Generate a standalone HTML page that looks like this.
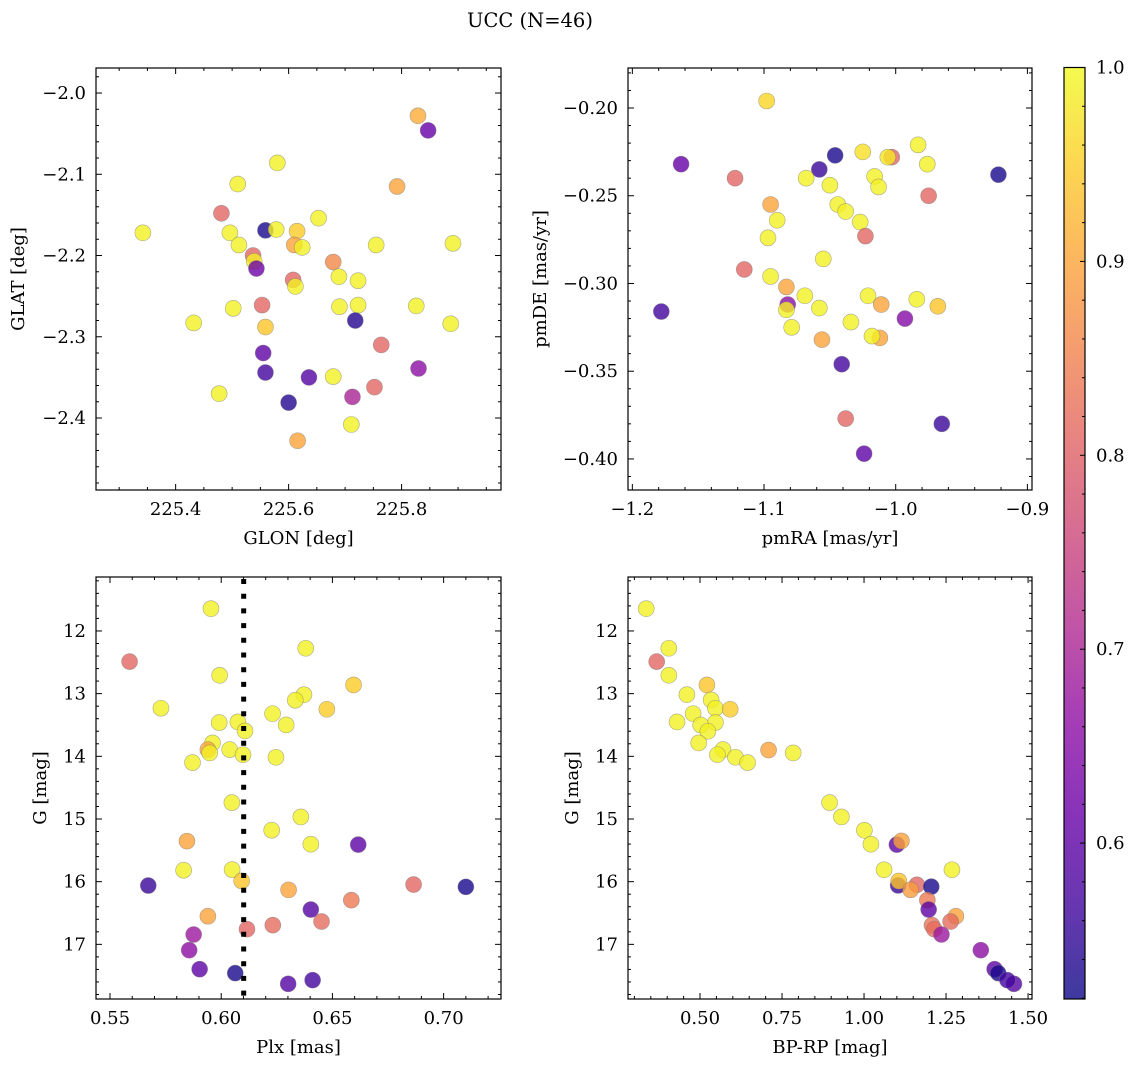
<!DOCTYPE html>
<html><head><meta charset="utf-8"><title>UCC (N=46)</title>
<style>
html,body{margin:0;padding:0;background:#fff;}
svg{display:block;font-family:"DejaVu Serif","Liberation Serif",serif;}
</style></head>
<body>
<svg id="fig" width="1136" height="1067" viewBox="0 0 1136 1067" xmlns="http://www.w3.org/2000/svg">
<rect width="1136" height="1067" fill="#fff"/>
<text x="530" y="27" font-size="19.5" text-anchor="middle">UCC (N=46)</text>
<defs>
<linearGradient id="cbgrad" x1="0" y1="1" x2="0" y2="0"></linearGradient>
</defs>
</svg>
<script>
// ---- data (46 members) ----
const glon = [225.342,225.481,225.510,225.496,225.512,225.537,225.539,225.543,225.559,225.580,225.578,225.615,225.610,225.624,225.653,225.608,225.612,225.679,225.689,225.723,225.792,225.829,225.847,225.755,225.891,225.502,225.553,225.559,225.432,225.690,225.723,225.826,225.887,225.718,225.764,225.555,225.559,225.636,225.679,225.830,225.752,225.713,225.477,225.600,225.711,225.616];
const glat = [-2.172,-2.148,-2.112,-2.172,-2.187,-2.200,-2.207,-2.216,-2.169,-2.086,-2.168,-2.170,-2.187,-2.190,-2.154,-2.230,-2.238,-2.208,-2.226,-2.231,-2.115,-2.028,-2.046,-2.187,-2.185,-2.265,-2.261,-2.288,-2.283,-2.263,-2.261,-2.262,-2.284,-2.280,-2.310,-2.320,-2.344,-2.350,-2.349,-2.339,-2.362,-2.374,-2.370,-2.381,-2.408,-2.428];
const probA = [0.99,0.81,0.99,0.99,0.99,0.81,0.99,0.62,0.53,0.99,0.99,0.95,0.90,0.99,0.99,0.81,0.99,0.86,0.99,0.99,0.90,0.91,0.61,0.99,0.99,0.99,0.81,0.94,0.99,0.99,0.99,0.99,0.99,0.54,0.81,0.60,0.57,0.59,0.99,0.66,0.81,0.70,0.99,0.54,0.99,0.90];

const pmra = [-1.098,-1.163,-1.122,-1.046,-1.058,-1.025,-1.003,-1.006,-0.983,-0.976,-0.922,-1.068,-1.050,-1.016,-1.013,-0.975,-1.095,-1.044,-1.038,-1.090,-1.027,-1.023,-1.097,-1.055,-1.115,-1.095,-1.083,-1.069,-1.021,-0.984,-1.011,-0.968,-1.082,-1.083,-1.058,-1.178,-0.993,-1.079,-1.034,-1.056,-1.012,-1.018,-1.041,-1.038,-0.965,-1.024];
const pmde = [-0.196,-0.232,-0.240,-0.227,-0.235,-0.225,-0.228,-0.228,-0.221,-0.232,-0.238,-0.240,-0.244,-0.239,-0.245,-0.250,-0.255,-0.255,-0.259,-0.264,-0.265,-0.273,-0.274,-0.286,-0.292,-0.296,-0.302,-0.307,-0.307,-0.309,-0.312,-0.313,-0.312,-0.315,-0.314,-0.316,-0.320,-0.325,-0.322,-0.332,-0.331,-0.330,-0.346,-0.377,-0.380,-0.397];
const probB = [0.96,0.61,0.81,0.53,0.56,0.97,0.81,0.98,0.99,0.99,0.53,0.99,0.99,0.99,0.99,0.81,0.90,0.99,0.99,0.99,0.99,0.81,0.99,0.99,0.81,0.99,0.90,0.99,0.99,0.99,0.90,0.94,0.66,0.99,0.99,0.57,0.65,0.99,0.99,0.90,0.90,0.99,0.57,0.81,0.56,0.60];

const plx = [0.5954,0.6380,0.5588,0.5993,0.6595,0.6372,0.6333,0.5729,0.6475,0.6231,0.6292,0.5991,0.6075,0.6107,0.5961,0.5940,0.5948,0.6038,0.6098,0.6246,0.5871,0.6048,0.6358,0.6227,0.5846,0.6403,0.6616,0.5831,0.6049,0.6092,0.5672,0.6303,0.6865,0.7100,0.6585,0.6403,0.5940,0.6451,0.6232,0.6116,0.5876,0.5856,0.5903,0.6063,0.6301,0.6411];
const gmagC = [11.644,12.276,12.489,12.707,12.861,13.016,13.105,13.233,13.249,13.319,13.499,13.462,13.451,13.595,13.786,13.893,13.946,13.893,13.973,14.015,14.100,14.738,14.967,15.179,15.354,15.402,15.408,15.817,15.807,15.987,16.062,16.131,16.046,16.083,16.295,16.445,16.551,16.636,16.694,16.757,16.843,17.093,17.396,17.459,17.630,17.571];
const probC = [0.99,0.99,0.81,0.99,0.95,0.99,0.99,0.99,0.95,0.99,0.99,0.99,0.99,0.99,0.99,0.90,0.99,0.99,0.99,0.99,0.99,0.99,0.99,0.99,0.90,0.99,0.60,0.99,0.99,0.94,0.56,0.90,0.81,0.53,0.84,0.59,0.90,0.82,0.82,0.81,0.68,0.66,0.60,0.53,0.59,0.57];

const bprp = [0.336,0.405,0.368,0.405,0.521,0.460,0.534,0.547,0.592,0.479,0.430,0.547,0.502,0.524,0.496,0.570,0.553,0.608,0.645,0.709,0.784,0.895,0.931,1.001,1.021,1.100,1.114,1.061,1.268,1.104,1.106,1.161,1.142,1.205,1.193,1.197,1.280,1.264,1.207,1.214,1.236,1.356,1.398,1.409,1.457,1.437];
const gmagD = [11.644,12.276,12.489,12.707,12.861,13.016,13.100,13.233,13.249,13.319,13.451,13.460,13.500,13.600,13.786,13.893,13.973,14.015,14.100,13.900,13.946,14.738,14.967,15.180,15.402,15.408,15.350,15.810,15.810,16.060,15.990,16.050,16.130,16.080,16.295,16.445,16.551,16.636,16.694,16.757,16.843,17.093,17.396,17.459,17.630,17.571];
const probD = [0.99,0.99,0.81,0.99,0.94,0.99,0.99,0.99,0.95,0.99,0.99,0.99,0.99,0.99,0.99,0.99,0.99,0.99,0.99,0.90,0.99,0.99,0.99,0.99,0.99,0.60,0.90,0.99,0.99,0.56,0.94,0.81,0.89,0.53,0.84,0.60,0.90,0.82,0.83,0.82,0.68,0.66,0.60,0.53,0.59,0.57];

const plxLine = [0.6101];
const cbTicks = [0.6,0.7,0.8,0.9,1.0];

// ---- helpers ----
const SVGNS = "http://www.w3.org/2000/svg";
const fig = document.getElementById('fig');
const VMIN = 0.5196, VMAX = 1.0;
const FS = 18;
const plasma = [[13,8,135],[65,4,157],[106,0,168],[143,13,164],[177,42,144],[204,71,120],[225,100,98],[242,132,75],[252,166,54],[252,206,37],[240,249,33]];
function cmap(t){
  t=Math.max(0,Math.min(1,t));
  const f=t*10, i=Math.min(9,Math.floor(f)), r=f-i;
  const a=plasma[i], b=plasma[i+1];
  return 'rgb('+a.map((v,k)=>Math.round(v+(b[k]-v)*r)).join(',')+')';
}
function el(tag, attrs, parent){
  const e=document.createElementNS(SVGNS,tag);
  for(const k in attrs) e.setAttribute(k,attrs[k]);
  (parent||fig).appendChild(e);
  return e;
}
const MINUS='\u2212';
function fmt(v,d){ const s=Math.abs(v).toFixed(d); return (v<0?MINUS:'')+s; }

function panel(cfg){
  const g=el('g',{});
  
  
  const {x0,y0,x1,y1}=cfg;
  const sx=v=>x0+(v-cfg.xmin)/(cfg.xmax-cfg.xmin)*(x1-x0);
  const sy=cfg.invert ? (v=>y0+(v-cfg.ymin)/(cfg.ymax-cfg.ymin)*(y1-y0))
                      : (v=>y1-(v-cfg.ymin)/(cfg.ymax-cfg.ymin)*(y1-y0));
  const pg=el('g',{},g);
  
  
  for(let i=0;i<cfg.xs.length;i++){
    const c=el('circle',{cx:sx(cfg.xs[i]).toFixed(2),cy:sy(cfg.ys[i]).toFixed(2),r:8,fill:cmap((cfg.ps[i]-VMIN)/(VMAX-VMIN)),'fill-opacity':0.8,stroke:'#777','stroke-opacity':0.6,'stroke-width':0.6},pg);
    
    
  }
  if(cfg.vline){
    const l=el('line',{x1:sx(cfg.vline[0]),x2:sx(cfg.vline[0]),y1:y0+2,y2:y1,stroke:'#000','stroke-width':5,'stroke-dasharray':'5,9.7'},g);
    
    
  }
  const fr=el('rect',{x:x0,y:y0,width:x1-x0,height:y1-y0,fill:'none',stroke:'#000','stroke-width':1.2},g);
  
  
  const eps=1e-9;
  const nmx=Math.round((cfg.xmax-cfg.xmin)/cfg.xminor)+2;
  const startx=Math.ceil(cfg.xmin/cfg.xminor-eps);
  for(let k=startx;k<startx+nmx;k++){
    const v=k*cfg.xminor; if(v>cfg.xmax+eps) break;
    const isMaj=Math.abs(v/cfg.xmajor-Math.round(v/cfg.xmajor))<1e-6;
    const L=isMaj?6:3, X=sx(v);
    el('line',{x1:X,x2:X,y1:y1,y2:y1-L,stroke:'#000','stroke-width':1},g);
    el('line',{x1:X,x2:X,y1:y0,y2:y0+L,stroke:'#000','stroke-width':1},g);
  }
  for(const v of cfg.xticks){
    const t=el('text',{x:sx(v),y:y1+25,'font-size':FS,'text-anchor':'middle'},g);
    t.textContent=fmt(v,cfg.xdec);
    
    
  }
  const ystart=Math.ceil(Math.min(cfg.ymin,cfg.ymax)/cfg.yminor-eps);
  const yend=Math.floor(Math.max(cfg.ymin,cfg.ymax)/cfg.yminor+eps);
  for(let k=ystart;k<=yend;k++){
    const v=k*cfg.yminor;
    const isMaj=Math.abs(v/cfg.ymajor-Math.round(v/cfg.ymajor))<1e-6;
    const L=isMaj?6:3, Y=sy(v);
    el('line',{x1:x0,x2:x0+L,y1:Y,y2:Y,stroke:'#000','stroke-width':1},g);
    el('line',{x1:x1,x2:x1-L,y1:Y,y2:Y,stroke:'#000','stroke-width':1},g);
  }
  for(const v of cfg.yticks){
    const t=el('text',{x:x0-10,y:sy(v)+6,'font-size':FS,'text-anchor':'end'},g);
    t.textContent=fmt(v,cfg.ydec);
    
    
  }
  const xl=el('text',{x:(x0+x1)/2,y:y1+54,'font-size':FS,'text-anchor':'middle'},g);
  xl.textContent=cfg.xlabel;
  
  
  const yl=el('text',{x:0,y:0,'font-size':FS,'text-anchor':'middle',transform:'translate('+cfg.ylx+','+((y0+y1)/2)+') rotate(-90)'},g);
  yl.textContent=cfg.ylabel;
  
  
}

panel({name:'glon-glat-panel',x0:96,y0:68,x1:501,y1:490,xmin:225.259,xmax:225.976,ymin:-2.4886,ymax:-1.9692,
  xmajor:0.2,xminor:0.05,ymajor:0.1,yminor:0.02,xticks:[225.4,225.6,225.8],yticks:[-2.0,-2.1,-2.2,-2.3,-2.4],xdec:1,ydec:1,
  xs:glon,ys:glat,ps:probA,xlabel:'GLON [deg]',ylabel:'GLAT [deg]',ylx:24});
panel({name:'proper-motion-panel',x0:628,y0:68,x1:1032,y1:490,xmin:-1.2033,xmax:-0.8965,ymin:-0.4177,ymax:-0.1772,
  xmajor:0.1,xminor:0.02,ymajor:0.05,yminor:0.01,xticks:[-1.2,-1.1,-1.0,-0.9],yticks:[-0.20,-0.25,-0.30,-0.35,-0.40],xdec:1,ydec:2,
  xs:pmra,ys:pmde,ps:probB,xlabel:'pmRA [mas/yr]',ylabel:'pmDE [mas/yr]',ylx:546});
panel({name:'parallax-mag-panel',x0:96,y0:577,x1:501,y1:999,xmin:0.5437,xmax:0.7258,ymin:11.139,ymax:17.872,invert:true,
  xmajor:0.05,xminor:0.01,ymajor:1,yminor:0.2,xticks:[0.55,0.60,0.65,0.70],yticks:[12,13,14,15,16,17],xdec:2,ydec:0,
  xs:plx,ys:gmagC,ps:probC,vline:plxLine,xlabel:'Plx [mas]',ylabel:'G [mag]',ylx:46});
panel({name:'cmd-panel',x0:628,y0:577,x1:1032,y1:999,xmin:0.2805,xmax:1.512,ymin:11.139,ymax:17.872,invert:true,
  xmajor:0.25,xminor:0.05,ymajor:1,yminor:0.2,xticks:[0.5,0.75,1.0,1.25,1.5],yticks:[12,13,14,15,16,17],xdec:2,ydec:0,
  xs:bprp,ys:gmagD,ps:probD,xlabel:'BP-RP [mag]',ylabel:'G [mag]',ylx:578});

// ---- colorbar ----
(function(){
  const grad=document.getElementById('cbgrad');
  for(let i=0;i<=10;i++){
    el('stop',{offset:(i/10),'stop-color':cmap(i/10),'stop-opacity':0.8},grad);
  }
  const cx0=1064,cx1=1085,cy0=67.5,cy1=999;
  const g=el('g',{});
  
  
  el('rect',{x:cx0,y:cy0,width:cx1-cx0,height:cy1-cy0,fill:'url(#cbgrad)',stroke:'#000','stroke-width':1.2},g);
  const sy=v=>cy1-(v-VMIN)/(VMAX-VMIN)*(cy1-cy0);
  for(let k=26;k<=50;k++){
    const v=k*0.02; if(v<VMIN||v>VMAX+1e-9) continue;
    const maj=(k%5===0);
    el('line',{x1:cx1,x2:cx1-(maj?5:3),y1:sy(v),y2:sy(v),stroke:'#000','stroke-width':1},g);
  }
  for(const v of cbTicks){
    const t=el('text',{x:1096,y:sy(v)+6,'font-size':FS},g);
    t.textContent=v.toFixed(1);
    
    
  }
})();
</script>
</body></html>
